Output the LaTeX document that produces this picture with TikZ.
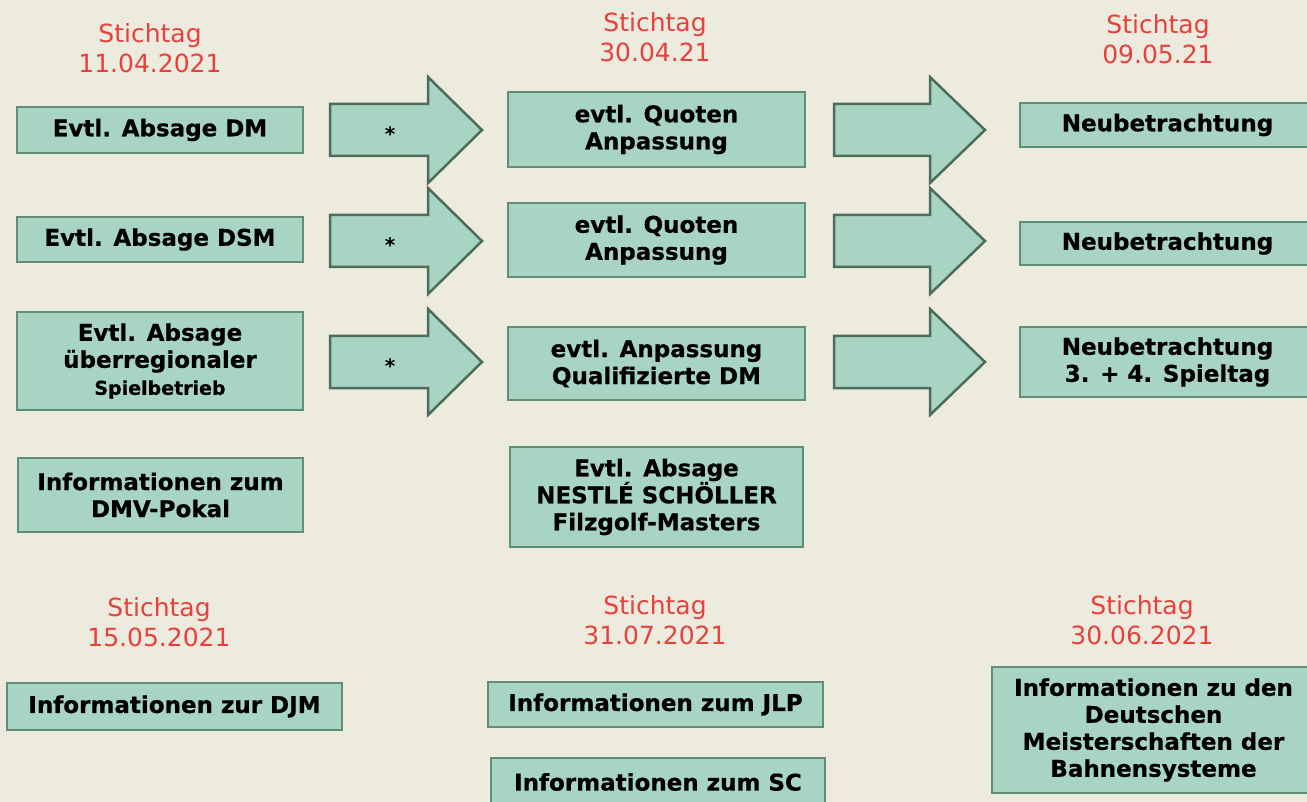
\documentclass[tikz,border=0pt]{standalone}
\usepackage{fontspec}
\setmainfont{DejaVu Sans}
\definecolor{hintergrund}{RGB}{237,235,221}
\definecolor{kastenfill}{RGB}{168,213,195}
\definecolor{kastenrand}{RGB}{96,142,118}
\definecolor{pfeilrand}{RGB}{78,108,92}
\definecolor{stichrot}{RGB}{232,64,60}
\tikzset{
  infobox/.style={draw=kastenrand, fill=kastenfill, line width=2.5pt, align=center,
    inner sep=0pt, font=\bfseries\addfontfeature{FakeBold=0.6}\fontsize{23}{27}\selectfont},
  stichtag/.style={text=stichrot, align=center, inner sep=0pt,
    font=\fontsize{25}{30}\selectfont},
  blockarrow/.style={draw=pfeilrand, fill=kastenfill, line width=2.5pt, line join=miter},
  stern/.style={inner sep=0pt, font=\bfseries\fontsize{20}{20}\selectfont}
}
\begin{document}
\begin{tikzpicture}[x=1pt,y=-1pt]
  \fill[hintergrund] (0,0) rectangle (1307,802);
  \useasboundingbox (0,0) rectangle (1307,802);
  % Pfeile
  \foreach \ya in {130,241,362}{
    \draw[blockarrow] (330,\ya-26) -- (428,\ya-26) -- (428,\ya-53) -- (482,\ya)
      -- (428,\ya+53) -- (428,\ya+26) -- (330,\ya+26) -- cycle;
    \draw[blockarrow] (834,\ya-26) -- (930,\ya-26) -- (930,\ya-53) -- (985,\ya)
      -- (930,\ya+53) -- (930,\ya+26) -- (834,\ya+26) -- cycle;
  }
  \node[stern] (stern1) at (390,134) {*};
  \node[stern] (stern2) at (390,245) {*};
  \node[stern] (stern3) at (390,366) {*};
  % Stichtage
  \node[stichtag] (st1) at (150,48) {Stichtag\\11.04.2021};
  \node[stichtag] (st2) at (655,37) {Stichtag\\30.04.21};
  \node[stichtag] (st3) at (1158,39) {Stichtag\\09.05.21};
  \node[stichtag] (st4) at (159,622) {Stichtag\\15.05.2021};
  \node[stichtag] (st5) at (655,620) {Stichtag\\31.07.2021};
  \node[stichtag] (st6) at (1142,620) {Stichtag\\30.06.2021};
  % linke Spalte
  \node[infobox, minimum width=286pt, minimum height=46pt] (absDM) at (160,130) {Evtl. Absage DM};
  \node[infobox, minimum width=286pt, minimum height=45pt] (absDSM) at (160,239.5) {Evtl. Absage DSM};
  \node[infobox, minimum width=286pt, minimum height=98pt] (absUeber) at (160,361)
    {Evtl. Absage\\überregionaler\\{\fontsize{19}{27}\selectfont Spielbetrieb}};
  \node[infobox, minimum width=285pt, minimum height=74pt] (infoDMV) at (160.5,495)
    {Informationen zum\\DMV-Pokal};
  \node[infobox, minimum width=335pt, minimum height=47pt] (infoDJM) at (174.5,706.5)
    {Informationen zur DJM};
  % mittlere Spalte
  \node[infobox, minimum width=297pt, minimum height=75pt] (quote1) at (656.5,129.5)
    {evtl. Quoten\\Anpassung};
  \node[infobox, minimum width=297pt, minimum height=74pt] (quote2) at (656.5,240)
    {evtl. Quoten\\Anpassung};
  \node[infobox, minimum width=297pt, minimum height=73pt] (qualDM) at (656.5,363.5)
    {evtl. Anpassung\\Qualifizierte DM};
  \node[infobox, minimum width=293pt, minimum height=100pt] (nestle) at (656.5,497)
    {Evtl. Absage\\NESTLÉ SCHÖLLER\\Filzgolf-Masters};
  \node[infobox, minimum width=335pt, minimum height=45pt] (infoJLP) at (655.5,704.5)
    {Informationen zum JLP};
  \node[infobox, minimum width=334pt, minimum height=48pt] (infoSC) at (658,782)
    {Informationen zum SC};
  % rechte Spalte
  \node[infobox, minimum width=295pt, minimum height=44pt] (neu1) at (1167.5,125) {Neubetrachtung};
  \node[infobox, minimum width=295pt, minimum height=43pt] (neu2) at (1167.5,243.5) {Neubetrachtung};
  \node[infobox, minimum width=295pt, minimum height=70pt] (neu3) at (1167.5,362)
    {Neubetrachtung\\3. + 4. Spieltag};
  \node[infobox, minimum width=323pt, minimum height=126pt] (infoBahn) at (1153.5,730)
    {Informationen zu den\\Deutschen\\Meisterschaften der\\Bahnensysteme};
\end{tikzpicture}
\end{document}
